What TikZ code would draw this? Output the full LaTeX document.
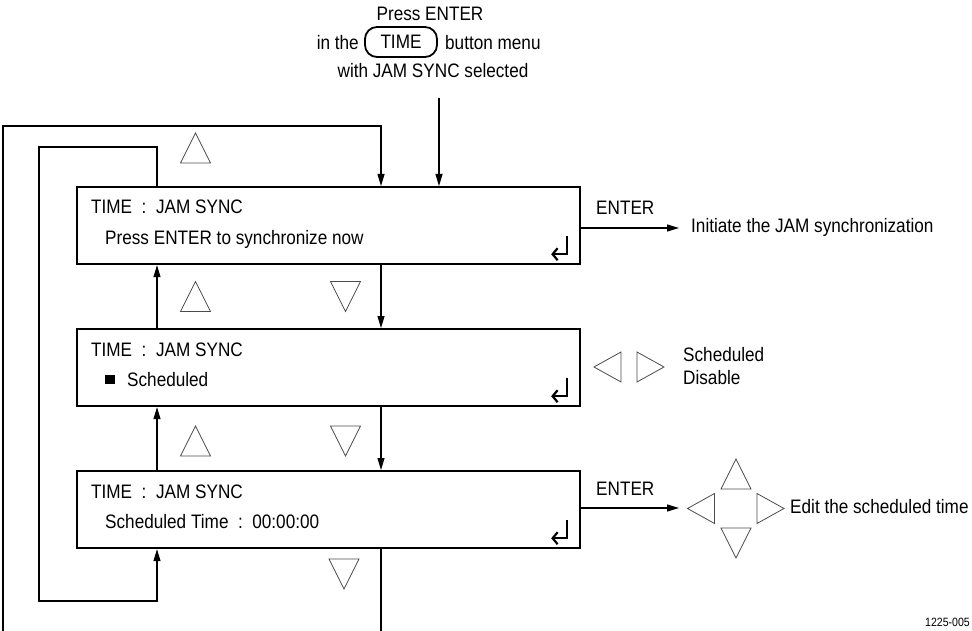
\documentclass[tikz,border=0pt]{standalone}
\usepackage{fontspec}
\setmainfont{Liberation Sans}[FakeStretch=0.88]
\usetikzlibrary{arrows.meta}
\begin{document}
\begin{tikzpicture}[x=1pt,y=-1pt,
  box/.style={draw, line width=2.2pt, minimum width=503pt, minimum height=77pt, anchor=north west, inner sep=0pt},
  txt/.style={inner sep=0pt, anchor=base west, font=\fontsize{19.5}{21}\selectfont},
  conn/.style={line width=1.1pt},
  arr/.style={conn, -{Triangle[length=12pt,width=7pt]}},
  tri/.style={draw=black!70, line width=0.8pt},
  enter/.style={line width=2.2pt, -{Straight Barb[length=5pt,width=12pt]}},
  tup/.pic={\draw[tri] (-15,15) -- (0,-15) -- (15,15) -- cycle;},
  tdown/.pic={\draw[tri] (-15,-15) -- (0,15) -- (15,-15) -- cycle;},
  tleft/.pic={\draw[tri] (13.5,-15) -- (-13.5,0) -- (13.5,15) -- cycle;},
  tright/.pic={\draw[tri] (-13.5,-15) -- (13.5,0) -- (-13.5,15) -- cycle;}
]
\useasboundingbox (0,0) rectangle (972,631);
\clip (0,0) rectangle (972,631);

% boxes
\node[box] (b1) at (76,186) {};
\node[box] (b2) at (76,328) {};
\node[box] (b3) at (76,470) {};

% box texts
\node[txt] (t1a) at ([xshift=15pt,yshift=-28pt]b1.north west) {TIME~~:~~JAM SYNC};
\node[txt] (t1b) at ([xshift=29pt,yshift=-58.5pt]b1.north west) {Press ENTER to synchronize now};
\node[txt] (t2a) at ([xshift=15pt,yshift=-28pt]b2.north west) {TIME~~:~~JAM SYNC};
\node[fill, minimum size=9.5pt, inner sep=0pt] (sq) at ([xshift=33.8pt,yshift=-51.5pt]b2.north west) {};
\node[txt] (t2b) at ([xshift=51pt,yshift=-58.5pt]b2.north west) {Scheduled};
\node[txt] (t3a) at ([xshift=15pt,yshift=-28pt]b3.north west) {TIME~~:~~JAM SYNC};
\node[txt] (t3b) at ([xshift=29pt,yshift=-58.5pt]b3.north west) {Scheduled Time~~:~~00:00:00};

% enter symbols
\foreach \b in {b1,b2,b3}{
  \draw[enter] ([xshift=-14pt,yshift=29pt]\b.south east) -- ([xshift=-14pt,yshift=11pt]\b.south east) -- ([xshift=-30pt,yshift=11pt]\b.south east);
}

% coordinates
\coordinate (dx) at (381,0);
\coordinate (ux) at (157,0);
\coordinate (obl) at (3,690);
\coordinate (otl) at (3,126);
\coordinate (itl) at (39,147);
\coordinate (ibl) at (39,601);
\coordinate (tx) at (439,98);

% vertical connectors
\draw[arr] (b1.south -| dx) -- (b2.north -| dx);
\draw[arr] (b2.south -| dx) -- (b3.north -| dx);
\draw[arr] (b2.north -| ux) -- (b1.south -| ux);
\draw[arr] (b3.north -| ux) -- (b2.south -| ux);

% outer loop
\draw[arr] (b3.south -| dx) -- (dx |- obl) -- (obl) -- (otl) -- (otl -| dx) -- (b1.north -| dx);
% inner loop
\draw[arr] (b1.north -| ux) -- (ux |- itl) -- (itl) -- (ibl) -- (ibl -| ux) -- (b3.south -| ux);

% top entry
\node[txt, anchor=base] (p1) at (430,21) {Press ENTER};
\node[txt, anchor=base east] (p2a) at (359,50) {in the};
\node[draw, line width=1.8pt, rounded corners=12pt, minimum width=72pt, minimum height=30pt, inner sep=0pt, font=\fontsize{19.5}{21}\selectfont] (tb) at (401,42) {TIME};
\node[txt] (p2b) at (445,50) {button menu};
\node[txt, anchor=base] (p3) at (433,78) {with JAM SYNC selected};
\draw[arr] (tx) -- (b1.north -| tx);

% triangles
\pic at (195.5,148) {tup};
\pic at (195.5,296.5) {tup};
\pic at (195.5,441) {tup};
\pic at (345.5,296.5) {tdown};
\pic at (345.5,441) {tdown};
\pic at (344,574) {tdown};

% right side
\coordinate (a1) at (679,228);
\draw[arr] (b1.east |- a1) -- (a1);
\node[txt] (e1) at (596,215) {ENTER};
\node[txt] (init) at (691,233) {Initiate the JAM synchronization};

\pic at (607.5,367) {tleft};
\pic at (650.5,367) {tright};
\node[txt] (s1) at (683,361) {Scheduled};
\node[txt] (s2) at (683,384) {Disable};

\coordinate (a3) at (679,508);
\draw[arr] (b3.east |- a3) -- (a3);
\node[txt] (e3) at (596,495) {ENTER};
\pic at (701,508.5) {tleft};
\pic at (736,474) {tup};
\pic at (770.5,508.5) {tright};
\pic at (736,543) {tdown};
\node[txt] (edit) at (790,513) {Edit the scheduled time};

\node[txt, anchor=base east, font=\fontsize{12}{13}\selectfont] (fig) at (970,626) {1225-005};
\end{tikzpicture}
\end{document}
